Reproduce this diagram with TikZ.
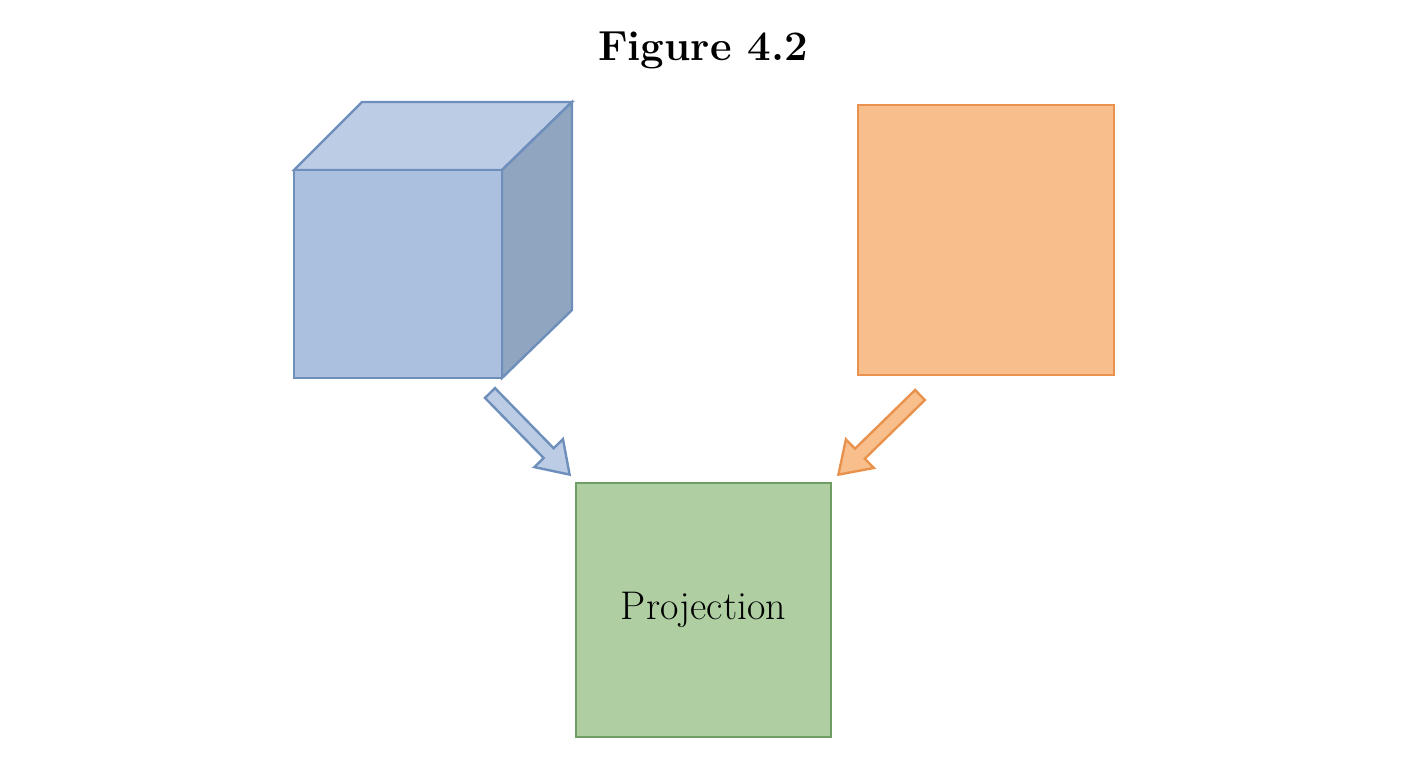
\documentclass[tikz,border=0pt]{standalone}
\begin{document}
\begin{tikzpicture}[x=0.5pt,y=-0.5pt,
  bfill/.style={fill=blue!30!cyan!10!white, draw=blue!30!gray},
  ln/.style={line width=1.2pt}]
\definecolor{cfront}{HTML}{ABC0DE}
\definecolor{ctop}{HTML}{BCCCE5}
\definecolor{cside}{HTML}{90A5BF}
\definecolor{cedge}{HTML}{6E8FBC}
\definecolor{ofill}{HTML}{F8BF8C}
\definecolor{oedge}{HTML}{E8924E}
\definecolor{gfill}{HTML}{AFCFA3}
\definecolor{gedge}{HTML}{6E9E64}
\useasboundingbox (0,0) rectangle (1408,768);
\node[font=\bfseries\fontsize{21}{24}\selectfont] (title) at (703,50) {Figure 4.2};
% cube
\draw[ln,draw=cedge,fill=ctop] (294,170) -- (362,102) -- (572,102) -- (502,170) -- cycle;
\draw[ln,draw=cedge,fill=cside] (502,170) -- (572,102) -- (572,310) -- (502,378) -- cycle;
\node[ln,draw=cedge,fill=cfront,minimum width=104pt,minimum height=104pt,inner sep=0] (cube) at (398,274) {};
\node[ln,draw=oedge,fill=ofill,minimum width=128pt,minimum height=135pt,inner sep=0] (sq) at (986,240) {};
\node[ln,draw=gedge,fill=gfill,minimum width=127.5pt,minimum height=127pt,inner sep=0,font=\fontsize{20}{24}\selectfont] (proj) at (703.5,610) {Projection};
% arrows
\begin{scope}[shift={(490,393)},rotate=-45.7]
\draw[ln,draw=cedge,fill=ctop] (0,-7) -- (84,-7) -- (84,-20) -- (114,0) -- (84,20) -- (84,7) -- (0,7) -- cycle;
\end{scope}
\begin{scope}[shift={(920,395)},rotate=224.3]
\draw[ln,draw=oedge,fill=ofill] (0,-7) -- (84,-7) -- (84,-20) -- (114,0) -- (84,20) -- (84,7) -- (0,7) -- cycle;
\end{scope}
\end{tikzpicture}
\end{document}
